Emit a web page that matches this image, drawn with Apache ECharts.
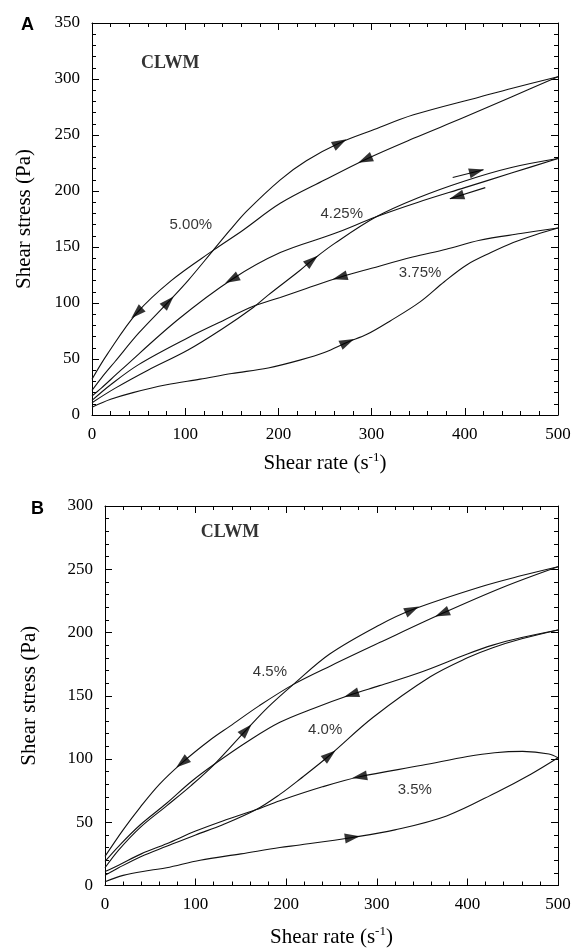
<!DOCTYPE html>
<html>
<head>
<meta charset="utf-8">
<script src="https://cdn.jsdelivr.net/npm/echarts@6/dist/echarts.min.js"></script>
<style>
  html, body { margin: 0; padding: 0; background: #fff; }
  #main { width: 574px; height: 949px; }
</style>
</head>
<body>
<div id="main"></div>
<script>
// Panel A (CLWM 3.75 / 4.25 / 5.00 %), [shear rate, shear stress]
// "Up" = increasing shear rate, "Down" = decreasing
const a500Up = [[0,22],[10,33],[25,48],[50,73],[82,101],[103,120],[130,147],[148,165],[166,182],[202,210],[230,227],[266,243],[300,254],[345,268],[416,284],[452,292],[500,302]]
const a500Down = [[500,302],[450,284],[400,266],[345,247],[293,228],[250,210],[202,189],[162,165],[130,147],[85,120],[48,91],[17,55],[0,32]]
const a425Up = [[0,11],[25,24],[60,40],[103,58],[140,77],[173,96],[189,107],[223,129],[236,138],[260,153],[305,177],[350,194],[400,209],[450,221],[500,229]]
const a425Down = [[500,229],[450,216],[400,203],[350,190],[305,177],[260,162],[202,145],[150,121],[92,85],[31,40],[10,24],[0,17]]
const a375Up = [[0,7],[20,14],[44,20],[80,27],[116,32],[150,37],[189,42],[223,49],[250,56],[274,65],[295,72],[320,84],[352,101],[378,119],[402,134],[428,145],[452,154],[476,161],[500,167]]
const a375Down = [[500,167],[460,162],[416,156],[380,148],[344,141],[300,131],[266,123],[230,113],[202,105],[173,97],[140,84],[103,69],[50,45],[20,27],[0,13]]

// Panel B (CLWM 3.5 / 4.0 / 4.5 %)
const b45Up = [[0,14],[15,28],[39,46],[68,63],[95,79],[121,96],[156,123],[180,141],[208,159],[248,183],[303,206],[339,218],[414,236],[460,245],[500,252]]
const b45Down = [[500,252],[440,236],[372,215],[303,192],[250,174],[208,159],[170,142],[138,126],[116,115],[85,97],[60,80],[39,62],[20,44],[0,23]]
const b40Up = [[0,8],[15,14],[40,23],[68,31],[100,40],[130,48],[167,60],[193,72],[215,84],[248,103],[296,133],[359,165],[400,180],[428,188],[460,195],[500,202]]
const b40Down = [[500,202],[460,196],[428,190],[400,183],[350,169],[303,158],[272,151],[230,140],[193,129],[160,115],[121,96],[95,82],[68,65],[39,48],[15,31],[0,19]]
const b35Up = [[0,3],[20,8],[50,12],[68,14],[105,20],[150,25],[193,30],[215,32],[273,38],[320,44],[377,55],[433,74],[470,88],[500,101]]
const b35Down = [[500,101],[490,104],[461,106],[430,105],[400,102],[350,95],[281,86],[240,78],[193,67],[167,60],[130,51],[100,43],[68,33],[40,25],[15,16],[0,11]]

// curve labels [text, shear rate, stress]
const labelsA = [['5.00%', 106, 170], ['4.25%', 268, 180], ['3.75%', 352, 127]]
const labelsB = [['4.5%', 182, 169], ['4.0%', 243, 123], ['3.5%', 342, 76]]
const tagA = ['CLWM', 84, 314]
const tagB = ['CLWM', 138, 279]

// arrow heads: [curve, shear rate]
const arrowsA = [[a500Up, 82], [a500Down, 48], [a500Up, 266], [a500Down, 293], [a425Down, 150], [a425Up, 236], [a375Down, 266], [a375Up, 274]]
const arrowsB = [[b45Up, 339], [b45Down, 372], [b45Up, 156], [b45Down, 85], [b40Down, 272], [b40Up, 248], [b35Down, 281], [b35Up, 273]]
// little detached arrows next to the 4.25% loop [from, to]
const sideArrowsA = [[[387,212],[420,219]], [[422,203],[384,193]]]

const serif = 'Liberation Serif'
const sans = 'Liberation Sans'
const chart = echarts.init(document.getElementById('main'))

function xAxes(gi, max, nameGap) {
  const base = {
    type: 'value', gridIndex: gi, min: 0, max: max, interval: 100,
    axisLine: { show: true, onZero: false, lineStyle: { color: '#000', width: 1 } },
    axisTick: { inside: true, length: 7, lineStyle: { color: '#000' } },
    minorTick: { show: true, splitNumber: 5, length: 4, lineStyle: { color: '#000' } },
    splitLine: { show: false }
  }
  return [
    Object.assign({}, base, {
      position: 'bottom',
      axisLabel: { color: '#000', fontFamily: serif, fontSize: 17, margin: 11 },
      name: '{n|Shear rate (s}{s|-1}{n|)}',
      nameLocation: 'middle',
      nameGap: nameGap,
      nameTextStyle: {
        rich: {
          n: { fontFamily: serif, fontSize: 21, lineHeight: 24, color: '#000' },
          s: { fontFamily: serif, fontSize: 13, lineHeight: 13, verticalAlign: 'top', color: '#000' }
        }
      }
    }),
    Object.assign({}, base, { position: 'top', axisLabel: { show: false } })
  ]
}

function yAxes(gi, max, nameGap) {
  const base = {
    type: 'value', gridIndex: gi, min: 0, max: max, interval: 50,
    axisLine: { show: true, onZero: false, lineStyle: { color: '#000', width: 1 } },
    axisTick: { inside: true, length: 7, lineStyle: { color: '#000' } },
    minorTick: { show: true, splitNumber: 5, length: 4, lineStyle: { color: '#000' } },
    splitLine: { show: false }
  }
  return [
    Object.assign({}, base, {
      position: 'left',
      axisLabel: { color: '#000', fontFamily: serif, fontSize: 17, margin: 12 },
      name: 'Shear stress (Pa)',
      nameLocation: 'middle',
      nameGap: nameGap,
      nameTextStyle: { fontFamily: serif, fontSize: 21, color: '#000' }
    }),
    Object.assign({}, base, { position: 'right', axisLabel: { show: false } })
  ]
}

function curve(data, ax) {
  return {
    type: 'line', data: data, xAxisIndex: ax, yAxisIndex: ax,
    showSymbol: false, smooth: 0.35, silent: true,
    lineStyle: { color: '#111', width: 1.1 }
  }
}

function textSeries(labels, tag, ax) {
  const items = labels.map(l => ({
    name: l[0], value: [l[1], l[2]],
    label: { fontFamily: sans, fontSize: 15 }
  }))
  items.push({
    name: tag[0], value: [tag[1], tag[2]],
    label: { fontFamily: serif, fontSize: 18, fontWeight: 'bold' }
  })
  return {
    type: 'scatter', xAxisIndex: ax, yAxisIndex: ax, symbolSize: 0, silent: true, z: 5,
    label: { show: true, position: 'inside', formatter: '{b}', color: '#000' },
    data: items
  }
}

const option = {
  animation: false,
  backgroundColor: '#fff',
  title: [
    { text: 'A', left: 16, top: 11, textStyle: { fontFamily: sans, fontWeight: 'bold', fontSize: 18, color: '#000' } },
    { text: 'B', left: 26, top: 495, textStyle: { fontFamily: sans, fontWeight: 'bold', fontSize: 18, color: '#000' } }
  ],
  grid: [
    { left: 92, top: 23, width: 466, height: 392 },
    { left: 105, top: 506, width: 453, height: 380 }
  ],
  xAxis: [...xAxes(0, 500, 36), ...xAxes(1, 500, 40)],
  yAxis: [...yAxes(0, 350, 57), ...yAxes(1, 300, 65)],
  series: [
    curve(a500Up, 0), curve(a500Down, 0), curve(a425Up, 0), curve(a425Down, 0), curve(a375Up, 0), curve(a375Down, 0),
    ...sideArrowsA.map(s => curve(s, 0)),
    curve(b45Up, 2), curve(b45Down, 2), curve(b40Up, 2), curve(b40Down, 2), curve(b35Up, 2), curve(b35Down, 2),
    textSeries(labelsA, tagA, 0),
    textSeries(labelsB, tagB, 2),
    { id: 'arrA', type: 'scatter', xAxisIndex: 0, yAxisIndex: 0, data: [] },
    { id: 'arrB', type: 'scatter', xAxisIndex: 2, yAxisIndex: 2, data: [] }
  ]
}
chart.setOption(option)

// arrow heads are placed on the curves and turned along them in pixel space
function onCurve(pts, x) {
  for (let i = 0; i < pts.length - 1; i++) {
    const a = pts[i], b = pts[i + 1]
    if ((x - a[0]) * (x - b[0]) <= 0) {
      const t = (x - a[0]) / (b[0] - a[0])
      return { p: [x, a[1] + t * (b[1] - a[1])], a: a, b: b }
    }
  }
}

function angle(ax, a, b) {
  const f = { xAxisIndex: ax, yAxisIndex: ax }
  const pa = chart.convertToPixel(f, a)
  const pb = chart.convertToPixel(f, b)
  return Math.atan2(-(pb[0] - pa[0]), -(pb[1] - pa[1])) * 180 / Math.PI
}

function arrowItems(list, ax) {
  return list.map(([pts, x]) => {
    const c = onCurve(pts, x)
    return { value: c.p, symbolRotate: angle(ax, c.a, c.b) }
  })
}

function sideItems(list, ax) {
  const f = { xAxisIndex: ax, yAxisIndex: ax }
  return list.map(([from, to]) => {
    const p0 = chart.convertToPixel(f, from)
    const p1 = chart.convertToPixel(f, to)
    const len = Math.hypot(p1[0] - p0[0], p1[1] - p0[1])
    const ux = (p1[0] - p0[0]) / len, uy = (p1[1] - p0[1]) / len
    const center = chart.convertFromPixel(f, [p1[0] - ux * 7, p1[1] - uy * 7])
    return { value: center, symbolRotate: angle(ax, from, to) }
  })
}

const arrowStyle = {
  symbol: 'triangle', symbolSize: [10, 15], silent: true, z: 4,
  itemStyle: { color: '#000' }
}
chart.setOption({
  series: [
    Object.assign({ id: 'arrA', data: arrowItems(arrowsA, 0).concat(sideItems(sideArrowsA, 0)) }, arrowStyle),
    Object.assign({ id: 'arrB', data: arrowItems(arrowsB, 2) }, arrowStyle)
  ]
})
</script>
</body>
</html>
